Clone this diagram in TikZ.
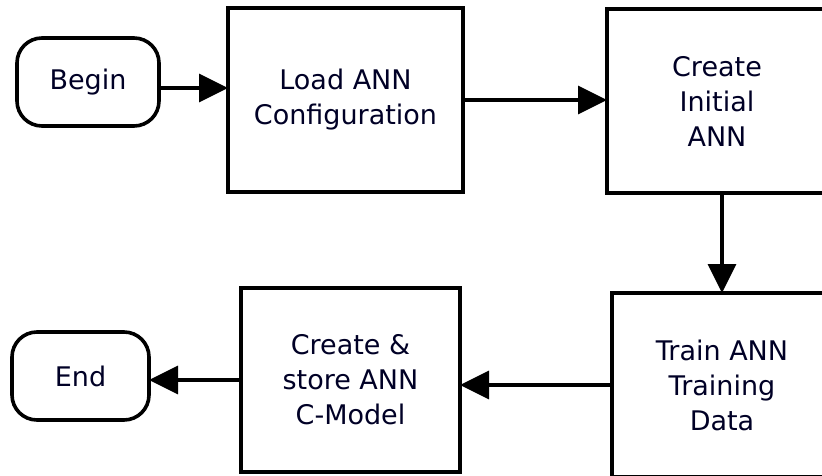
\documentclass[tikz,border=0pt]{standalone}
\usepackage{fontspec}
\setmainfont{DejaVu Sans}
\usetikzlibrary{arrows.meta}
\begin{document}
\begin{tikzpicture}[x=1pt,y=-1pt,
  every node/.style={font=\fontsize{27}{35}\selectfont, text=black!85!blue, align=center, line width=3.6pt, inner sep=0pt, outer sep=0pt},
  proc/.style={draw=black, fill=white, minimum height=184pt},
  term/.style={draw=black, fill=white, rounded corners=25pt, minimum height=88pt},
  arr/.style={draw=black, line width=3.6pt, -{Triangle[length=29pt,width=28pt]}}]
\useasboundingbox (0,0) rectangle (822,476);
\clip (0,0) rectangle (822,476);
\node[term, minimum width=142pt] (begin) at (88,82) {Begin};
\node[proc, minimum width=235pt] (load) at (345.5,100) {Load ANN\\Configuration};
\node[proc, minimum width=220pt] (init) at (717,101) {Create\\Initial\\ANN};
\node[proc, minimum width=220pt] (train) at (722,385) {Train ANN\\Training\\Data};
\node[proc, minimum width=219pt] (store) at (350.5,380) {Create \&\\store ANN\\C-Model};
\node[term, minimum width=137pt] (end) at (80.5,376) {End};
\draw[arr] ([yshift=-6pt]begin.east) -- ([yshift=-6pt]begin.east -| load.west);
\draw[arr] (load.east) -- (load.east -| init.west);
\draw[arr] (train.north |- init.south) -- (train.north);
\draw[arr] (train.west) -- (train.west -| store.east);
\draw[arr] (store.west) -- (store.west -| end.east);
\end{tikzpicture}
\end{document}
